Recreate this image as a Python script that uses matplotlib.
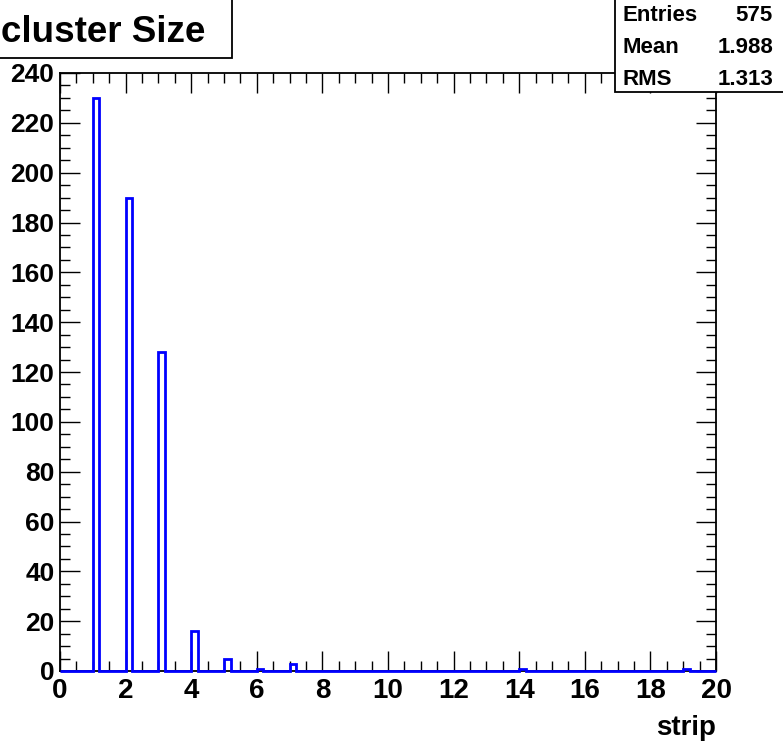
import numpy as np
import matplotlib
matplotlib.use("Agg")
import matplotlib.pyplot as plt
from matplotlib.patches import Rectangle
from matplotlib.ticker import MultipleLocator

# ---- data ----
cluster_sizes = [1, 2, 3, 4, 5, 6, 7, 14, 19]
counts = [230, 190, 128, 16, 5, 1, 3, 1, 1]
n_bins = 100
x_range = (0, 20)
title = "cluster Size"
x_label = "strip"
stats_names = ["Entries", "Mean", "RMS"]
stats_values = ["575", "1.988", "1.313"]

FONT = ["Liberation Sans", "DejaVu Sans"]
plt.rcParams['font.family'] = FONT
plt.rcParams['font.weight'] = 'bold'

W, H = 783, 742
fig = plt.figure(figsize=(W / 100, H / 100), dpi=100)
fig.patch.set_facecolor("white")

def fx(px):
    return px / W

def fy(py):
    return 1 - py / H

ax = fig.add_axes([fx(60), fy(671), fx(716) - fx(60), fy(73) - fy(671)])

edges = np.linspace(x_range[0], x_range[1], n_bins + 1)
width = (x_range[1] - x_range[0]) / n_bins
hist = np.zeros(n_bins)
idx = np.round((np.array(cluster_sizes) - x_range[0]) / width).astype(int)
hist[idx] = counts
ax.stairs(hist, edges, baseline=0, fill=False, color="#0000ff", linewidth=2.0,
          clip_on=False, zorder=3)

ax.set_xlim(*x_range)
ax.set_ylim(0, 240)
ax.xaxis.set_major_locator(MultipleLocator(2))
ax.xaxis.set_minor_locator(MultipleLocator(0.5))
ax.yaxis.set_major_locator(MultipleLocator(20))
ax.yaxis.set_minor_locator(MultipleLocator(5))
ax.tick_params(which="both", direction="in", top=True, right=True, color="black", width=1.0)
ax.tick_params(which="major", length=14.4)
ax.tick_params(which="minor", length=7.2)
ax.tick_params(axis="x", which="major", pad=5, labelsize=20)
ax.tick_params(axis="y", which="major", pad=4, labelsize=19)
for lab in ax.get_xticklabels() + ax.get_yticklabels():
    lab.set_fontweight("bold")
for sp in ax.spines.values():
    sp.set_linewidth(1.3)

fig.text(fx(716), fy(735), x_label, ha="right", va="baseline", fontsize=20, fontweight="bold")

# title box
fig.patches.append(Rectangle((fx(-5), fy(58)), fx(237), 63 / H, transform=fig.transFigure,
                             facecolor="white", edgecolor="black", linewidth=1.3, zorder=5))
fig.text(fx(1), fy(42), title, ha="left", va="baseline", fontsize=26.5, fontweight="bold", zorder=6)

# stats box
fig.patches.append(Rectangle((fx(615), fy(92)), fx(180), 100 / H, transform=fig.transFigure,
                             facecolor="white", edgecolor="black", linewidth=1.3, zorder=5))
for i, (nm, val) in enumerate(zip(stats_names, stats_values)):
    yb = 21 + 32 * i
    fig.text(fx(623), fy(yb), nm, ha="left", va="baseline", fontsize=16, fontweight="bold", zorder=6)
    fig.text(fx(773), fy(yb), val, ha="right", va="baseline", fontsize=16, fontweight="bold", zorder=6)

fig.savefig("out.png", dpi=100)
